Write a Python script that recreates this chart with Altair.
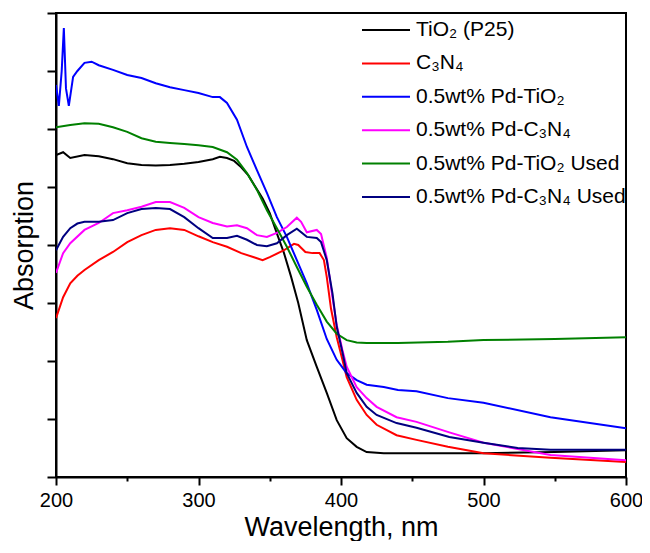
import altair as alt
import pandas as pd

LABELS = [
    "TiO₂ (P25)",
    "C₃N₄",
    "0.5wt% Pd-TiO₂",
    "0.5wt% Pd-C₃N₄",
    "0.5wt% Pd-TiO₂ Used",
    "0.5wt% Pd-C₃N₄ Used",
]
COLORS = ["#000000", "#ff0000", "#0000ff", "#ff00ff", "#008000", "#000080"]

TIO2_WL = [200, 205, 210, 220, 230, 240, 250, 260, 270, 280, 290, 300, 310, 315, 320, 325, 330, 335,
           340, 345, 350, 355, 360, 365, 370, 376, 383, 390, 397, 404, 411, 418, 430, 450, 500, 550, 600]
TIO2_ABS = [0.555, 0.56, 0.55, 0.555, 0.553, 0.548, 0.541, 0.538, 0.537, 0.538, 0.54, 0.543, 0.548, 0.552,
            0.55, 0.545, 0.534, 0.52, 0.5, 0.48, 0.455, 0.42, 0.386, 0.345, 0.3, 0.236, 0.19, 0.145, 0.098,
            0.067, 0.052, 0.043, 0.041, 0.041, 0.041, 0.043, 0.046]

C3N4_WL = [200, 205, 210, 215, 220, 230, 240, 250, 260, 270, 280, 290, 300, 310, 320, 330, 340, 345, 350,
           360, 367, 370, 375, 380, 385, 388, 390, 393, 397, 401, 404, 411, 418, 425, 439, 453, 475, 500, 547, 600]
C3N4_ABS = [0.274, 0.31, 0.334, 0.347, 0.357, 0.374, 0.388, 0.405, 0.417, 0.426, 0.429, 0.426, 0.415, 0.405,
            0.397, 0.386, 0.378, 0.374, 0.379, 0.391, 0.402, 0.4, 0.388, 0.386, 0.386, 0.374, 0.345, 0.29,
            0.241, 0.202, 0.172, 0.133, 0.107, 0.09, 0.072, 0.064, 0.052, 0.041, 0.033, 0.026]

PDTIO2_WL = [200, 202, 204, 205.5, 207, 209, 212, 215, 220, 225, 230, 240, 250, 260, 270, 280, 290, 300, 310,
             315, 320, 327, 334, 341, 348, 355, 362, 369, 376, 383, 390, 397, 404, 411, 418, 430, 440, 453,
             475, 500, 547, 600]
PDTIO2_ABS = [0.676, 0.64, 0.70, 0.774, 0.67, 0.64, 0.69, 0.70, 0.714, 0.716, 0.71, 0.702, 0.693, 0.688,
              0.679, 0.672, 0.667, 0.662, 0.655, 0.655, 0.645, 0.616, 0.569, 0.529, 0.49, 0.448, 0.414,
              0.374, 0.334, 0.288, 0.238, 0.202, 0.179, 0.167, 0.159, 0.155, 0.15, 0.148, 0.136, 0.128,
              0.103, 0.084]

PDC3N4_WL = [200, 205, 210, 220, 230, 240, 250, 260, 270, 280, 290, 300, 310, 320, 327, 334, 341, 348, 355,
             362, 369, 372, 376, 383, 386, 390, 394, 397, 401, 404, 411, 418, 425, 439, 453, 476, 500, 547, 600]
PDC3N4_ABS = [0.352, 0.386, 0.403, 0.426, 0.438, 0.455, 0.46, 0.466, 0.474, 0.474, 0.464, 0.448, 0.438,
              0.432, 0.434, 0.429, 0.417, 0.414, 0.421, 0.431, 0.447, 0.44, 0.422, 0.426, 0.419, 0.378,
              0.31, 0.262, 0.219, 0.19, 0.155, 0.136, 0.121, 0.103, 0.095, 0.077, 0.059, 0.038, 0.029]

PDTIO2U_WL = [200, 210, 220, 230, 240, 250, 260, 270, 280, 290, 300, 310, 320, 327, 334, 341, 348, 355, 362,
              369, 376, 383, 390, 397, 404, 411, 418, 440, 475, 500, 550, 600]
PDTIO2U_ABS = [0.603, 0.607, 0.61, 0.609, 0.603, 0.595, 0.584, 0.578, 0.576, 0.574, 0.572, 0.569, 0.56,
               0.547, 0.524, 0.495, 0.46, 0.429, 0.397, 0.362, 0.328, 0.297, 0.268, 0.247, 0.236, 0.232,
               0.231, 0.231, 0.233, 0.236, 0.238, 0.241]

PDC3N4U_WL = [200, 205, 210, 215, 220, 230, 240, 250, 260, 270, 280, 290, 300, 310, 320, 327, 334, 341, 348,
              355, 362, 369, 376, 383, 386, 390, 394, 397, 401, 404, 411, 418, 425, 439, 453, 476, 500, 524,
              547, 600]
PDC3N4U_ABS = [0.391, 0.414, 0.429, 0.437, 0.44, 0.44, 0.443, 0.455, 0.462, 0.464, 0.462, 0.448, 0.429,
               0.412, 0.412, 0.416, 0.409, 0.4, 0.398, 0.403, 0.417, 0.428, 0.414, 0.412, 0.405, 0.374,
               0.317, 0.259, 0.215, 0.179, 0.145, 0.121, 0.107, 0.093, 0.085, 0.069, 0.059, 0.05, 0.047, 0.047]

SERIES = [
    (TIO2_WL, TIO2_ABS),
    (C3N4_WL, C3N4_ABS),
    (PDTIO2_WL, PDTIO2_ABS),
    (PDC3N4_WL, PDC3N4_ABS),
    (PDTIO2U_WL, PDTIO2U_ABS),
    (PDC3N4U_WL, PDC3N4U_ABS),
]

X_TICKS = [200, 250, 300, 350, 400, 450, 500, 550, 600]
Y_TICKS = [0, 0.1, 0.2, 0.3, 0.4, 0.5, 0.6, 0.7, 0.8]

rows = []
for i, (wl, ab) in enumerate(SERIES):
    for w, a in zip(wl, ab):
        rows.append({"series": LABELS[i], "order": i, "wl": w, "abs": a})
df = pd.DataFrame(rows)

FONT = "Liberation Sans"

chart = alt.Chart(df).mark_line(strokeWidth=2, clip=True).encode(
    x=alt.X(
        "wl:Q",
        scale=alt.Scale(domain=[200, 600], nice=False, zero=False),
        axis=alt.Axis(
            values=X_TICKS,
            labelExpr="datum.value % 100 === 0 ? datum.label : ''",
            tickSize={"condition": {"test": "datum.value % 100 !== 0", "value": 4}, "value": 8},
            labelFlush=False,
            labelOverlap=False,
            labelPadding=5,
            title="Wavelength, nm",
            titleX=285,
            titleY=58,
            titleAlign="center",
            titleBaseline="alphabetic",
        ),
    ),
    y=alt.Y(
        "abs:Q",
        scale=alt.Scale(domain=[0, 0.8], nice=False, zero=False),
        axis=alt.Axis(
            values=Y_TICKS,
            labels=False,
            tickSize=9,
            title="Absorption",
            titleX=-24,
            titleY=232,
            titleAngle=270,
            titleAlign="center",
            titleBaseline="alphabetic",
        ),
    ),
    color=alt.Color(
        "series:N",
        sort=LABELS,
        scale=alt.Scale(domain=LABELS, range=COLORS),
        legend=alt.Legend(
            title=None,
            orient="none",
            legendX=306,
            legendY=4,
            padding=0,
            symbolType="M-2,0H2",
            symbolSize=576,
            symbolStrokeWidth=2,
            symbolOffset=11,
            labelOffset=17,
            labelFontSize=21,
            labelFont=FONT,
            labelColor="black",
            labelLimit=600,
            rowPadding=10.4,
        ),
    ),
    order=alt.Order("order:Q"),
    detail="series:N",
).properties(
    width=570,
    height=464,
    autosize=alt.AutoSizeParams(type="none"),
    padding={"left": 48, "top": 5, "right": 16, "bottom": 64},
).configure(
    font=FONT,
).configure_view(
    stroke="black",
    strokeWidth=2,
).configure_axis(
    grid=False,
    domainColor="black",
    domainWidth=2,
    tickColor="black",
    tickWidth=2,
    labelColor="black",
    labelFont=FONT,
    labelFontSize=20,
    titleColor="black",
    titleFont=FONT,
    titleFontSize=27,
    titleFontWeight="normal",
)

chart.save("out.html", embed_options={"renderer": "svg", "actions": False})
